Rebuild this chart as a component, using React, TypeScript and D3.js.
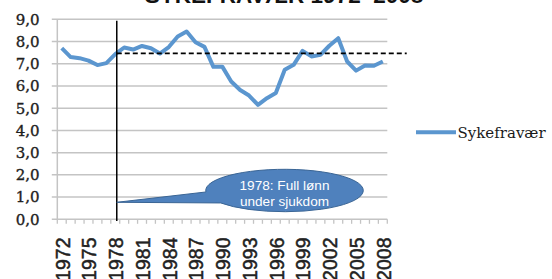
import React from "react";
import * as d3 from "d3";

const years: string[] = d3.range(1972, 2009).map((y) => String(y));
const sickLeave: number[] = [
  7.7, 7.3, 7.25, 7.14, 6.94, 7.03, 7.43, 7.73, 7.64, 7.8, 7.7, 7.46, 7.75,
  8.23, 8.45, 7.97, 7.76, 6.86, 6.87, 6.2, 5.82, 5.57, 5.15, 5.45, 5.68, 6.73,
  6.95, 7.58, 7.33, 7.4, 7.81, 8.15, 7.1, 6.69, 6.92, 6.91, 7.1,
];
const yTicks: number[] = d3.range(0, 10, 1);
const yearLabels: string[] = years.filter((_, i) => i % 3 === 0);
const referenceLevel = 7.47;
const reformYear = "1978";
const title = "SYKEFRAVÆR 1972–2008";
const legendLabel = "Sykefravær";
const calloutLines = ["1978: Full lønn", "under sjukdom"];

export default function App() {
  const W = 552;
  const H = 279;
  const left = 57.3;
  const right = 387.3;
  const top = 19.3;
  const bottom = 219.3;

  const x = d3.scaleBand<string>().domain(years).range([left, right]).padding(0);
  const y = d3.scaleLinear().domain([0, 9]).range([bottom, top]);
  const cx = (yr: string) => (x(yr) as number) + x.bandwidth() / 2;

  const line = d3
    .line<number>()
    .x((_, i) => cx(years[i]))
    .y((d) => y(d))
    .curve(d3.curveLinear);

  const fmt = (v: number) => v.toFixed(1).replace(".", ",");
  const vx = cx(reformYear) + 1.5;

  // callout geometry
  const ecx = 284.5, ecy = 190.5, erx = 78.8, ery = 21.2;
  const t1 = (176 * Math.PI) / 180;
  const t2 = (144 * Math.PI) / 180;
  const p1 = [ecx + erx * Math.cos(t1), ecy + ery * Math.sin(t1)];
  const p2 = [ecx + erx * Math.cos(t2), ecy + ery * Math.sin(t2)];
  const tip = [vx, 202.3];
  const calloutPath = `M${p1[0]},${p1[1]} A${erx},${ery} 0 1 1 ${p2[0]},${p2[1]} L${tip[0]},${tip[1]} Z`;

  const ticksX = years.map((yr) => x(yr) as number).concat([right]);

  return (
    <svg
      width={W}
      height={H}
      style={{ position: "absolute", left: 0, top: 0, background: "#fff" }}
    >
      <text
        x={284}
        y={2.5}
        textAnchor="middle"
        fontFamily="Liberation Sans, Arial, sans-serif"
        fontWeight="bold"
        fontSize={22.5}
        fill="#111"
      >
        {title}
      </text>

      {/* gridlines */}
      {yTicks.map((t) => (
        <line
          key={"g" + t}
          x1={left - 5.5}
          x2={right}
          y1={y(t)}
          y2={y(t)}
          stroke="#c4c4c4"
          strokeWidth={1.5}
        />
      ))}
      {/* y axis line */}
      <line x1={left} x2={left} y1={top} y2={bottom} stroke="#c4c4c4" strokeWidth={1.5} />
      {/* x ticks */}
      {ticksX.map((tx, i) => (
        <line
          key={"t" + i}
          x1={tx}
          x2={tx}
          y1={bottom}
          y2={bottom + 4.5}
          stroke="#c4c4c4"
          strokeWidth={1.3}
        />
      ))}

      {/* y labels */}
      {yTicks.map((t) => (
        <text
          key={"yl" + t}
          x={39.5}
          y={y(t)}
          dy="0.36em"
          textAnchor="end"
          fontFamily="DejaVu Serif, serif"
          fontSize={15}
          fill="#1e1e1e"
          stroke="#1e1e1e"
          strokeWidth={0.35}
        >
          {fmt(t)}
        </text>
      ))}

      {/* x labels */}
      {yearLabels.map((yr) => (
        <text
          key={"xl" + yr}
          transform={`translate(${cx(yr) + 7.8},237.5) rotate(-90)`}
          textAnchor="end"
          fontFamily="Liberation Sans, Arial, sans-serif"
          fontSize={19.5}
          fill="#222"
          stroke="#222"
          strokeWidth={0.5}
        >
          {yr}
        </text>
      ))}

      {/* series */}
      <path
        d={line(sickLeave) || ""}
        fill="none"
        stroke="#5b96cf"
        strokeWidth={4}
        strokeLinejoin="round"
      />

      {/* reference vertical line */}
      <line x1={vx} x2={vx} y1={20.7} y2={221} stroke="#000" strokeWidth={1.5} />
      {/* dashed level line */}
      <line
        x1={vx}
        x2={406.7}
        y1={y(referenceLevel)}
        y2={y(referenceLevel)}
        stroke="#000"
        strokeWidth={1.8}
        strokeDasharray="5,3"
      />

      {/* callout */}
      <path d={calloutPath} fill="#4f81bd" stroke="#3a6595" strokeWidth={1} />
      {calloutLines.map((s, i) => (
        <text
          key={"c" + i}
          x={ecx}
          y={185 + i * 16}
          dy="0.36em"
          textAnchor="middle"
          fontFamily="Liberation Sans, Arial, sans-serif"
          fontSize={13.6}
          fill="#fff"
        >
          {s}
        </text>
      ))}

      {/* legend */}
      <line x1={416} x2={456} y1={132.3} y2={132.3} stroke="#5b96cf" strokeWidth={4} />
      <text
        x={457.5}
        y={132.3}
        dy="0.36em"
        fontFamily="DejaVu Serif, serif"
        fontSize={15}
        fill="#1a1a1a"
      >
        {legendLabel}
      </text>
    </svg>
  );
}
